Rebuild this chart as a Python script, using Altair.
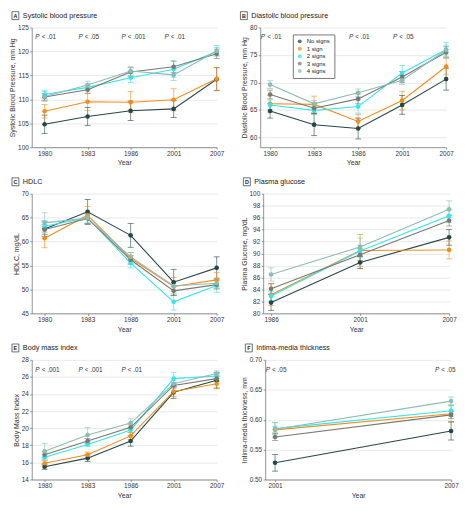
import altair as alt
import pandas as pd

FONT = "Liberation Sans Narrow, Liberation Sans, Arial, sans-serif"

groups = ["No signs", "1 sign", "2 signs", "3 signs", "4 signs"]
colors = ["#274747", "#f28e1c", "#33e5ef", "#7b7870", "#8dbcb6"]

years_5 = ["1980", "1983", "1986", "2001", "2007"]
years_d = ["1986", "2001", "2007"]
years_f = ["2001", "2007"]

# A Systolic blood pressure (rows = groups, cols = years)
sbp_mean = [[104.8, 106.4, 107.6, 108.0, 114.2],
            [107.5, 109.5, 109.4, 109.9, 114.3],
            [111.0, 112.5, 114.5, 116.3, 120.0],
            [110.5, 112.0, 115.7, 116.8, 119.5],
            [110.6, 113.0, 115.9, 115.1, 120.1]]
sbp_err = [[1.9, 1.9, 2.0, 1.8, 2.4],
           [1.4, 1.8, 2.2, 2.3, 2.4],
           [0.9, 0.7, 1.0, 1.7, 0.8],
           [0.7, 0.8, 0.9, 1.2, 1.0],
           [1.0, 0.8, 0.9, 1.2, 1.1]]
sbp_p = ["< .01", "< .05", "< .001", "< .01"]
sbp_p_years = ["1980", "1983", "1986", "2001"]

# B Diastolic blood pressure
dbp_mean = [[64.8, 62.3, 61.6, 65.9, 70.6],
            [66.1, 66.0, 62.9, 66.7, 72.9],
            [65.9, 64.9, 65.6, 71.7, 76.0],
            [67.8, 65.3, 67.0, 71.0, 75.5],
            [69.6, 66.1, 68.1, 70.4, 75.9]]
dbp_err = [[1.3, 2.0, 1.9, 1.7, 2.0],
           [1.5, 1.5, 1.3, 1.7, 1.5],
           [0.9, 0.8, 1.2, 1.4, 1.3],
           [0.8, 1.0, 0.9, 1.0, 1.0],
           [0.7, 0.6, 0.7, 0.8, 0.9]]
dbp_p = ["< .01", "< .01", "< .05"]
dbp_p_years = ["1980", "1986", "2001"]

# C HDLC
hdl_mean = [[62.6, 66.2, 61.3, 51.5, 54.5],
            [60.7, 65.5, 56.5, 50.6, 52.0],
            [63.2, 65.0, 55.5, 47.4, 50.8],
            [62.5, 64.8, 56.2, 49.7, 51.0],
            [63.9, 64.9, 56.8, 50.7, 51.3]]
hdl_err = [[1.5, 2.6, 2.5, 2.7, 2.3],
           [2.0, 1.8, 1.2, 1.9, 1.5],
           [1.2, 1.2, 1.0, 1.7, 1.4],
           [1.0, 1.0, 0.9, 1.0, 0.9],
           [2.1, 1.0, 0.9, 1.1, 1.1]]

# D Plasma glucose
glu_mean = [[81.8, 88.5, 92.7],
            [83.1, 90.5, 90.6],
            [82.9, 90.4, 96.3],
            [84.1, 89.8, 95.5],
            [86.5, 91.1, 97.4]]
glu_err = [[1.3, 1.0, 1.3],
           [1.8, 2.7, 1.5],
           [0.8, 1.0, 1.1],
           [0.9, 1.0, 0.9],
           [1.1, 1.5, 1.4]]

# E Body mass index
bmi_mean = [[15.5, 16.5, 18.5, 24.2, 25.6],
            [15.9, 16.9, 19.1, 24.3, 25.2],
            [16.6, 18.1, 19.8, 25.8, 26.1],
            [16.9, 18.5, 20.1, 25.0, 25.8],
            [17.3, 19.2, 20.6, 25.2, 26.4]]
bmi_err = [[0.3, 0.4, 0.6, 0.7, 0.9],
           [0.3, 0.3, 0.4, 0.6, 0.6],
           [0.3, 0.2, 0.3, 0.7, 0.3],
           [0.3, 0.3, 0.3, 0.3, 0.3],
           [0.9, 0.9, 0.5, 0.4, 0.3]]
bmi_p = ["< .001", "< .001", "< .01"]
bmi_p_years = ["1980", "1983", "1986"]

# F Intima-media thickness
imt_mean = [[0.528, 0.581],
            [0.583, 0.610],
            [0.585, 0.615],
            [0.571, 0.608],
            [0.584, 0.631]]
imt_err = [[0.014, 0.015],
           [0.012, 0.013],
           [0.010, 0.010],
           [0.006, 0.006],
           [0.005, 0.007]]
imt_p = ["< .05", "< .05"]
imt_p_years = ["2001", "2007"]

WL, WR, H = 187, 188, 121


def panel(letter, title, years, means, errs, ytitle, domain, ticks, fmt,
          p_txt, p_years, pad_px, width, legend=False, last_right=False):
    rows = []
    for gi, g in enumerate(groups):
        for yr, m, e in zip(years, means[gi], errs[gi]):
            rows.append({"year": yr, "group": g, "gi": gi, "mean": m,
                         "lo": m - e, "hi": m + e})
    df = pd.DataFrame(rows)
    n = len(years)
    step = (width - pad_px) / (n - 1)
    p = pad_px / (2 * step)
    xs = alt.X("year:O",
               scale=alt.Scale(type="point", domain=years, padding=p, align=1),
               axis=alt.Axis(title="Year", labelAngle=0, grid=False))
    yscale = alt.Scale(domain=domain, nice=False, zero=False)
    yaxis = alt.Axis(title=ytitle, values=ticks, format=fmt, grid=True)

    def ych(field):
        return alt.Y(f"{field}:Q", scale=yscale, axis=yaxis)

    cscale = alt.Scale(domain=groups, range=colors)
    if legend:
        col = alt.Color("group:N", scale=cscale,
                        legend=alt.Legend(title=None, orient="none",
                                          legendX=33, legendY=7,
                                          symbolType="circle", symbolSize=16,
                                          labelFontSize=6, labelFont=FONT,
                                          labelColor="#222",
                                          strokeColor="#777", fillColor="white",
                                          padding=4, rowPadding=1.5,
                                          symbolStrokeWidth=0, labelOffset=4))
    else:
        col = alt.Color("group:N", scale=cscale, legend=None)

    base = alt.Chart(df)
    rules = base.mark_rule(strokeWidth=0.8, opacity=0.75).encode(
        x=xs, y=ych("lo"), y2="hi:Q", color=col)
    cap_lo = base.mark_tick(orient="horizontal", size=6, thickness=0.8,
                            opacity=0.75).encode(x=xs, y=ych("lo"), color=col)
    cap_hi = base.mark_tick(orient="horizontal", size=6, thickness=0.8,
                            opacity=0.75).encode(x=xs, y=ych("hi"), color=col)
    lines = base.mark_line(strokeWidth=1.1).encode(
        x=xs, y=ych("mean"), color=col, detail="group:N", order="gi:Q")
    pts = base.mark_point(filled=True, shape="circle", size=22, opacity=1).encode(
        x=xs, y=ych("mean"), color=col)

    one = alt.Data(values=[{"k": 1}])
    box = alt.Chart(one).mark_rect(fill="white", stroke="#333", strokeWidth=0.7).encode(
        x=alt.value(-20), x2=alt.value(-13), y=alt.value(-16), y2=alt.value(-8))
    let = alt.Chart(one).mark_text(text=letter, font=FONT, fontSize=5.5,
                                   fontWeight="bold", color="#222",
                                   align="center", baseline="middle").encode(
        x=alt.value(-16.5), y=alt.value(-11.8))
    ttl = alt.Chart(one).mark_text(text=title, font=FONT, fontSize=7.3,
                                   color="#222", align="left",
                                   baseline="middle").encode(
        x=alt.value(-9), y=alt.value(-12))

    layers = [rules, cap_lo, cap_hi, lines, pts, box, let, ttl]
    if p_txt:
        for i, (yr, t) in enumerate(zip(p_years, p_txt)):
            shift = 0
            if last_right and i == len(p_txt) - 1:
                shift = -7
            pc = alt.Chart(pd.DataFrame({"year": [yr], "txt": [t]}))
            pP = pc.mark_text(text="P", font=FONT, fontSize=6.5, fontStyle="italic",
                              color="#333", align="right", baseline="middle",
                              dx=-5 + shift).encode(x=xs, y=alt.value(10))
            pT = pc.mark_text(font=FONT, fontSize=6.5, color="#333", align="left",
                              baseline="middle", dx=-3 + shift).encode(
                x=xs, y=alt.value(10), text="txt:N")
            layers += [pP, pT]
    return alt.layer(*layers).properties(width=width, height=H)


A = panel("A", "Systolic blood pressure", years_5, sbp_mean, sbp_err,
          "Systolic Blood Pressure, mm Hg", [100, 125], [100, 105, 110, 115, 120, 125],
          "d", sbp_p, sbp_p_years, 13, WL)
B = panel("B", "Diastolic blood pressure", years_5, dbp_mean, dbp_err,
          "Diastolic Blood Pressure, mm Hg", [58.2, 80], [60, 65, 70, 75, 80],
          "d", dbp_p, dbp_p_years, 10, WR, legend=True)
C = panel("C", "HDLC", years_5, hdl_mean, hdl_err,
          "HDLC, mg/dL", [45, 70], [45, 50, 55, 60, 65, 70],
          "d", None, None, 13, WL)
D = panel("D", "Plasma glucose", years_d, glu_mean, glu_err,
          "Plasma Glucose, mg/dL", [80, 100], list(range(80, 101, 2)),
          "d", None, None, 8, WR)
E = panel("E", "Body mass index", years_5, bmi_mean, bmi_err,
          "Body Mass Index", [14, 28], list(range(14, 29, 2)),
          "d", bmi_p, bmi_p_years, 13, WL)
F = panel("F", "Intima-media thickness", years_f, imt_mean, imt_err,
          "Intima-media thickness, mm", [0.5, 0.7], [0.5, 0.55, 0.6, 0.65, 0.7],
          ".2f", imt_p, imt_p_years, 10, WR, last_right=True)

SP_H = 15
row1 = alt.hconcat(A, B, spacing=SP_H).resolve_legend(color="independent")
row2 = alt.hconcat(C, D, spacing=SP_H).resolve_legend(color="independent")
row3 = alt.hconcat(E, F, spacing=SP_H).resolve_legend(color="independent")

chart = alt.vconcat(row1, row2, row3, spacing=11).resolve_legend(
    color="independent"
).properties(padding=0).configure_view(stroke=None).configure_axis(
    labelFont=FONT, titleFont=FONT, labelFontSize=6.5, titleFontSize=7,
    titleFontWeight="normal", labelColor="#333", titleColor="#333",
    domainColor="#777", tickColor="#777", tickSize=2, domainWidth=0.8,
    tickWidth=0.8, gridColor="#e3e3e3", gridWidth=0.8, labelPadding=1.5,
    titlePadding=2
)

chart.save("out.html", embed_options={"renderer": "svg", "actions": False})
